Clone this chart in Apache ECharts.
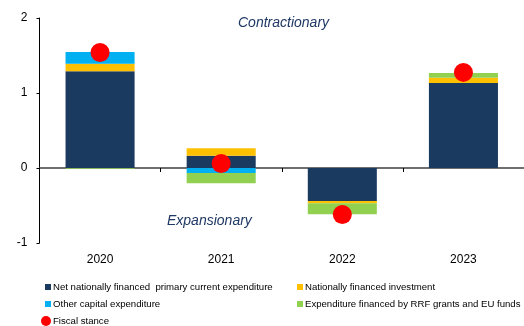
<!DOCTYPE html>
<html><head><meta charset="utf-8">
<script src="https://cdn.jsdelivr.net/npm/echarts@6/dist/echarts.min.js"></script>
<style>html,body{margin:0;padding:0;background:#fff}#c{width:524px;height:326px}</style>
</head><body><div id="c"></div>
<script>
const categories = ['2020', '2021', '2022', '2023'];
const netPrimaryCurrent = [1.29, 0.165, -0.44, 1.135];
const natInvestment = [0.10, 0.10, -0.03, 0.068];
const otherCapital = [0.157, -0.067, 0, 0];
const rrfEu = [-0.01, -0.137, -0.147, 0.063];
const fiscalStance = [1.54, 0.06, -0.62, 1.275];
const yTicks = [-1, 0, 1, 2];

const names = ['Net nationally financed  primary current expenditure', 'Nationally financed investment', 'Other capital expenditure', 'Expenditure financed by RRF grants and EU funds', 'Fiscal stance'];
const colors = ['#1B3A5F', '#FFC000', '#00B0F0', '#92D050', '#FF0000'];
const font = 'Liberation Sans, Arial, sans-serif';

function bar(i, data) {
  return { name: names[i], type: 'bar', stack: 'a', data: data, barWidth: '57%',
    itemStyle: { color: colors[i] }, xAxisIndex: 0 };
}
function legend(name, left, top, icon, size) {
  return { data: [{ name: name, icon: icon }], left: left, top: top, padding: 0,
    itemWidth: size, itemHeight: size, itemGap: 0,
    textStyle: { fontSize: 9.6, fontFamily: font, color: '#000', padding: [0, 0, 0, -3] }, selectedMode: false };
}

const chart = echarts.init(document.getElementById('c'));
chart.setOption({
  animation: false,
  grid: { left: 39.5, right: -5.5, top: 18, bottom: 83, containLabel: false },
  xAxis: [
    { type: 'category', data: categories, axisLine: { onZero: true, onZeroAxisIndex: 0, lineStyle: { color: '#404040', width: 1.5 } },
      axisTick: { show: true, length: 4, lineStyle: { color: '#000' } }, axisLabel: { show: false } },
    { type: 'category', data: categories, position: 'bottom', axisLine: { show: false, onZero: false },
      axisTick: { show: false }, axisLabel: { fontSize: 12, fontFamily: font, color: '#000', margin: 11 } },
    { type: 'category', data: categories, axisLine: { show: false, onZero: true, onZeroAxisIndex: 0 },
      axisTick: { show: true, inside: true, length: 4, lineStyle: { color: '#000' } }, axisLabel: { show: false } }
  ],
  yAxis: { type: 'value', min: yTicks[0], max: yTicks[yTicks.length - 1], interval: 1,
    axisLine: { show: true, lineStyle: { color: '#000' } }, axisTick: { show: true, length: 3, lineStyle: { color: '#000' } },
    splitLine: { show: false }, axisLabel: { fontSize: 12, fontFamily: font, color: '#000', margin: 12 } },
  legend: [
    legend(names[0], 45, 282, 'rect', 6),
    legend(names[1], 297, 282, 'rect', 6),
    legend(names[2], 45, 299, 'rect', 6),
    legend(names[3], 297, 299, 'rect', 6),
    legend(names[4], 41, 316, 'circle', 10)
  ],
  graphic: [
    { type: 'text', left: 238, top: 16, style: { text: 'Contractionary', font: 'italic 14px ' + font, fill: '#1F3864' } },
    { type: 'text', left: 167, top: 214, style: { text: 'Expansionary', font: 'italic 14px ' + font, fill: '#1F3864' } }
  ],
  series: [
    bar(0, netPrimaryCurrent),
    bar(1, natInvestment),
    bar(2, otherCapital),
    bar(3, rrfEu),
    { name: names[4], type: 'scatter', data: fiscalStance, symbolSize: 19, itemStyle: { color: colors[4], opacity: 1 }, z: 5 }
  ]
});
</script></body></html>
